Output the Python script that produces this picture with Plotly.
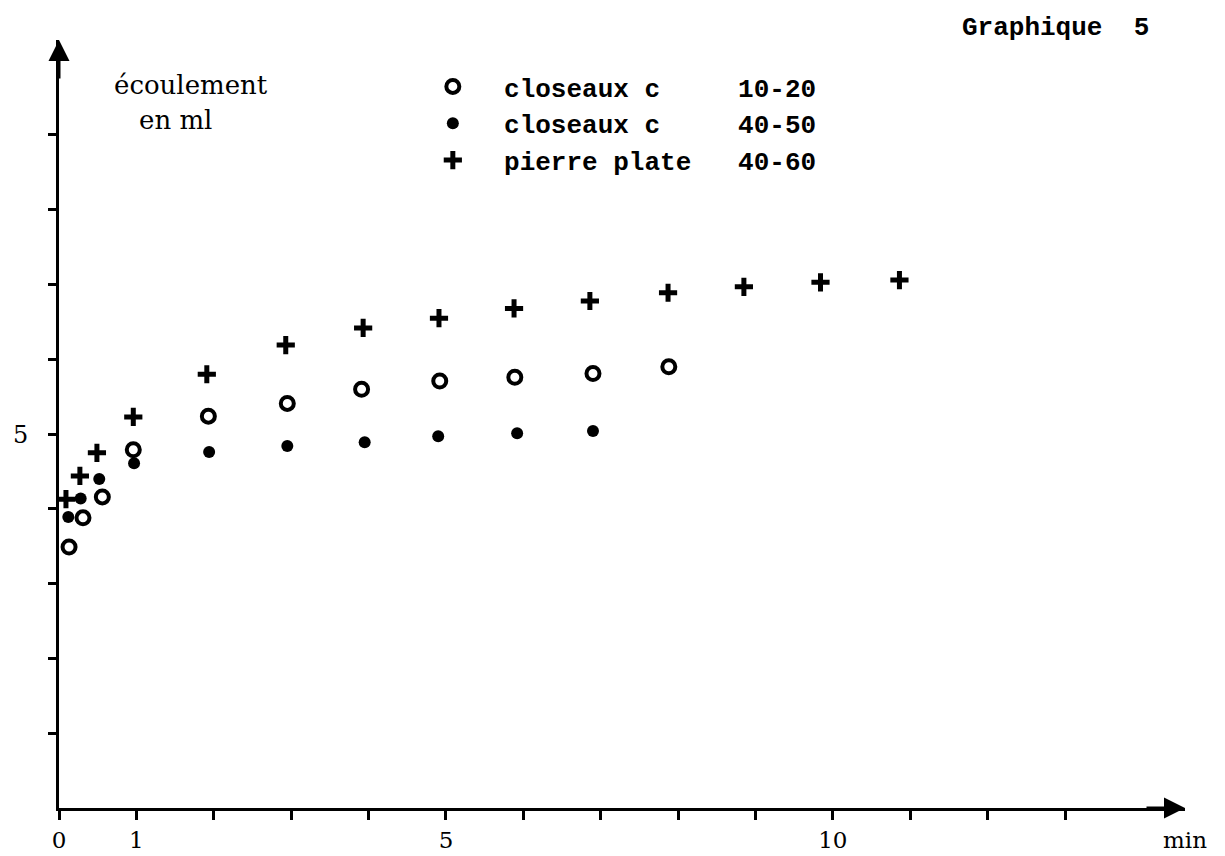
import plotly.graph_objects as go

# --- data (minutes, ml) ---
x_c1020 = [0.13, 0.31, 0.56, 0.96, 1.93, 2.95, 3.91, 4.92, 5.89, 6.90, 7.88]
y_c1020 = [3.49, 3.88, 4.16, 4.79, 5.24, 5.41, 5.60, 5.71, 5.76, 5.81, 5.90]

x_c4050 = [0.12, 0.28, 0.52, 0.97, 1.94, 2.95, 3.95, 4.90, 5.92, 6.90]
y_c4050 = [3.89, 4.14, 4.40, 4.61, 4.76, 4.84, 4.89, 4.97, 5.01, 5.04]

x_pp4060 = [0.09, 0.27, 0.49, 0.96, 1.91, 2.93, 3.93, 4.91, 5.88, 6.86, 7.87, 8.85, 9.84, 10.86]
y_pp4060 = [4.13, 4.44, 4.75, 5.23, 5.80, 6.19, 6.42, 6.55, 6.68, 6.78, 6.89, 6.97, 7.03, 7.06]

x_tickvals = list(range(0, 14))
x_ticktext = ["0", "1", "", "", "", "5", "", "", "", "", "10", "", "", ""]
y_tickvals = list(range(1, 10))
y_ticktext = ["", "", "", "", "5", "", "", "", ""]

NB = "\u00a0"
names = [
    NB * 2 + "closeaux" + NB + "c" + NB * 5 + "10-20",
    NB * 2 + "closeaux" + NB + "c" + NB * 5 + "40-50",
    NB * 2 + "pierre" + NB + "plate" + NB * 3 + "40-60",
]

fig = go.Figure()
fig.add_trace(go.Scatter(
    x=x_c1020, y=y_c1020, mode="markers", name=names[0],
    marker=dict(symbol="circle-open", size=13, color="black", line=dict(width=4, color="black")),
))
fig.add_trace(go.Scatter(
    x=x_c4050, y=y_c4050, mode="markers", name=names[1],
    marker=dict(symbol="circle", size=12, color="black"),
))
fig.add_trace(go.Scatter(
    x=x_pp4060, y=y_pp4060, mode="markers", name=names[2],
    marker=dict(symbol="cross-thin", size=13, color="black", line=dict(width=5, color="black")),
))

serif = "DejaVu Serif"
mono = "Liberation Mono"

fig.update_layout(
    width=1225, height=856,
    margin=dict(l=59, r=40, t=40, b=48),
    paper_bgcolor="white", plot_bgcolor="white",
    showlegend=True,
    legend=dict(
        x=0.332, y=0.970, xanchor="left", yanchor="top",
        font=dict(family=mono, size=26, color="black", weight="bold"),
        bgcolor="rgba(0,0,0,0)", tracegroupgap=0,
    ),
    xaxis=dict(
        range=[0, 14.55], showgrid=False, zeroline=False, automargin=False,
        showline=True, linecolor="black", linewidth=3,
        ticks="outside", ticklen=9, tickwidth=3, tickcolor="black",
        tickvals=x_tickvals, ticktext=x_ticktext,
        tickfont=dict(family=serif, size=23, color="black"),
        ticklabelstandoff=0,
    ),
    yaxis=dict(
        range=[0, 10.27], showgrid=False, zeroline=False, automargin=False,
        showline=True, linecolor="black", linewidth=3,
        ticks="outside", ticklen=8, tickwidth=3, tickcolor="black",
        tickvals=y_tickvals, ticktext=y_ticktext,
        tickfont=dict(family=serif, size=24, color="black"),
        ticklabelstandoff=15,
    ),
)

# axis arrowheads
fig.add_annotation(x=0, y=1, xref="paper", yref="paper", ax=0, ay=40,
                   showarrow=True, arrowhead=2, arrowsize=1.4, arrowwidth=3,
                   arrowcolor="black", text="")
fig.add_annotation(x=1, y=0, xref="paper", yref="paper", ax=-40, ay=0,
                   showarrow=True, arrowhead=2, arrowsize=1.4, arrowwidth=3,
                   arrowcolor="black", text="")

# texts
fig.add_annotation(x=1, y=0, xref="paper", yref="paper", xanchor="center", yanchor="middle",
                   yshift=-32, text="min", showarrow=False,
                   font=dict(family=serif, size=23, color="black"))
fig.add_annotation(x=0.047, y=0.941, xref="paper", yref="paper", xanchor="left", yanchor="middle",
                   text="écoulement", showarrow=False,
                   font=dict(family=serif, size=26, color="black"))
fig.add_annotation(x=0.069, y=0.896, xref="paper", yref="paper", xanchor="left", yanchor="middle",
                   text="en ml", showarrow=False,
                   font=dict(family=serif, size=26, color="black"))
fig.add_annotation(x=0.97, y=1.0, xref="paper", yref="paper", xanchor="right", yanchor="middle",
                   yshift=12, text="Graphique" + NB * 2 + "5", showarrow=False,
                   font=dict(family=mono, size=26, color="black", weight="bold"))

# remove the default 8px page margin so the 1225x856 figure fills the window exactly
fig.write_html("out.html",
               config={"displayModeBar": False},
               post_script="document.body.style.margin='0';document.body.style.overflow='hidden';")
